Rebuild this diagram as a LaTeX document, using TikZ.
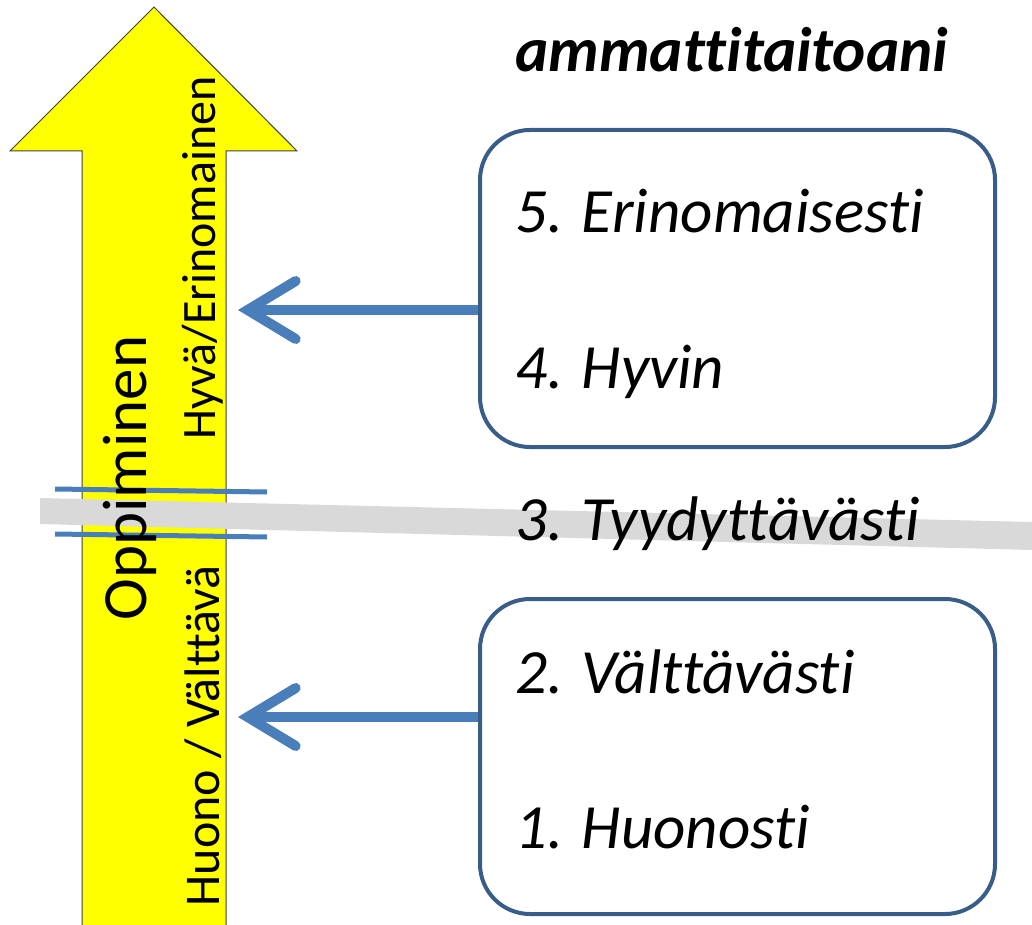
\documentclass[tikz,border=0pt]{standalone}
\usepackage{fontspec}
\setmainfont{Carlito}[Ligatures=NoCommon]
\usetikzlibrary{arrows.meta}
\definecolor{arrowyellow}{RGB}{255,255,0}
\definecolor{bandgray}{RGB}{217,217,217}
\definecolor{accblue}{RGB}{74,126,187}
\definecolor{boxblue}{RGB}{56,93,138}
\tikzset{
  box/.style={draw=boxblue, line width=4pt, rounded corners=50pt, minimum width=515pt, anchor=north west, inner sep=0pt},
  item/.style={anchor=base west, inner sep=0pt, font=\fontsize{63}{70}\selectfont\itshape},
  vert/.style={rotate=90, inner sep=0pt},
  link/.style={draw=accblue, line width=10pt, -{Straight Barb[length=48pt,width=58pt,line cap=round,line join=miter]}},
  sep/.style={draw=accblue, line width=5pt}
}
\begin{document}
\begin{tikzpicture}[x=1pt,y=-1pt]
\useasboundingbox (0,0) rectangle (1032,925);
% big yellow arrow
\path[fill=arrowyellow, draw=black!75, line width=1pt]
  (154,7) -- (297,151) -- (226,151) -- (226,935) -- (82,935) -- (82,151) -- (10,151) -- cycle;
% gray band
\fill[bandgray] (40,498) -- (1032,522) -- (1032,550) -- (40,524) -- cycle;
% separator lines
\draw[sep] (55,489) -- (267,492);
\draw[sep] (55,534) -- (267,537);
% vertical texts
\node[vert, font=\fontsize{63}{70}\selectfont] (opp) at (130,478) {Oppiminen};
\node[vert, font=\fontsize{48}{54}\selectfont] (good) at (203,258) {Hyvä/Erinomainen};
\node[vert, font=\fontsize{50}{56}\selectfont] (bad) at (203,736) {Huono / Välttävä};
% title
\node[anchor=base west, inner sep=0pt, font=\fontsize{63}{70}\selectfont\bfseries\itshape] (title) at (515,72) {ammattitaitoani};
% boxes
\node[box, minimum height=317pt] (box1) at (478,128) {};
\node[box, minimum height=315pt] (box2) at (478,597) {};
% items
\node[item] (i5) at (515,233) {5. Erinomaisesti};
\node[item] (i4) at (515,388) {4. Hyvin};
\node[item] (i3) at (515,540) {3. Tyydyttävästi};
\node[item] (i2) at (515,693) {2. Välttävästi};
\node[item] (i1) at (515,848) {1. Huonosti};
% arrows
\coordinate (t1) at (238,310);
\coordinate (t2) at (238,717);
\draw[link] (box1.west |- t1) -- (t1);
\draw[link] (box2.west |- t2) -- (t2);
\end{tikzpicture}
\end{document}
